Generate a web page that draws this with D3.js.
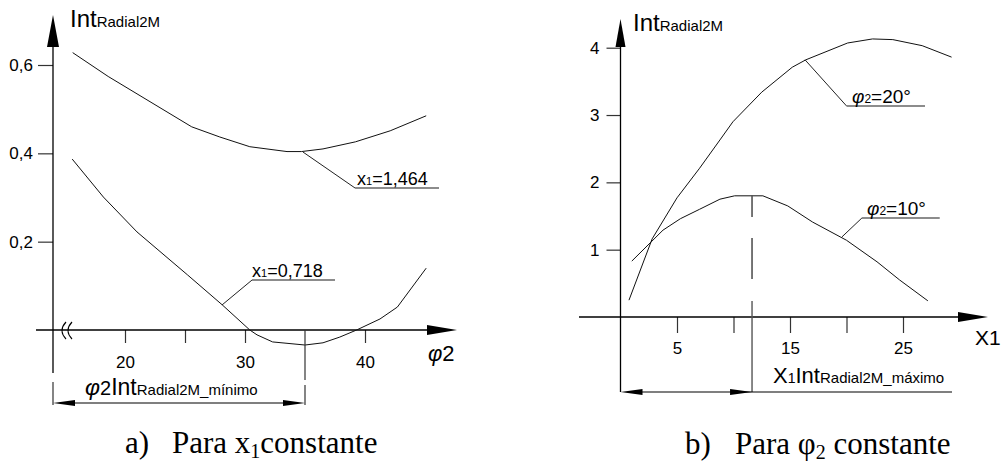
<!DOCTYPE html>
<html>
<head>
<meta charset="utf-8">
<script src="https://cdn.jsdelivr.net/npm/d3@7"></script>
<style>
  body { margin: 0; background: #fff; }
  text { font-family: "Liberation Sans", Arial, sans-serif; fill: #000; }
  .serif { font-family: "Liberation Serif", "Times New Roman", serif; }
</style>
</head>
<body>
<script>
// ---- data ----
// a) x1 constant: Int vs phi2
let phiUpper = [15.64, 18.6, 25.56, 27.9, 30.4, 33.5, 34.7, 36.5, 39.2, 42.1, 45.1];
let intUpper = [0.628, 0.574, 0.46, 0.437, 0.415, 0.404, 0.404, 0.41, 0.426, 0.451, 0.485];
let phiLower = [15.6, 18.2, 21.0, 25.2, 28.1, 30.4, 31.0, 32.3, 35.0, 36.5, 37.9, 39.3, 41.25, 42.7, 45.1];
let intLower = [0.387, 0.301, 0.222, 0.125, 0.057, 0.0, -0.011, -0.027, -0.034, -0.029, -0.016, 0.0, 0.025, 0.052, 0.14];
let leftXTicks = [20, 25, 30, 40];
let leftXLabels = [20, 30, 40];
let leftYTicks = [0.2, 0.4, 0.6];
let phiMin = 35;

// b) phi2 constant: Int vs x1
let x1Phi20 = [0.75, 2.8, 5.0, 7.0, 8.8, 9.95, 12.5, 15.2, 16.4, 20.1, 22.3, 24.1, 26.7, 29.3];
let intPhi20 = [0.25, 1.16, 1.77, 2.21, 2.63, 2.9, 3.34, 3.71, 3.82, 4.07, 4.13, 4.12, 4.03, 3.86];
let x1Phi10 = [1.0, 3.76, 5.3, 7.0, 8.8, 10.1, 12.6, 14.8, 17.0, 20.0, 22.7, 24.7, 27.2];
let intPhi10 = [0.83, 1.29, 1.46, 1.6, 1.75, 1.8, 1.8, 1.65, 1.41, 1.14, 0.82, 0.55, 0.24];
let rightXTicks = [5, 10, 15, 20, 25];
let rightXLabels = [5, 15, 25];
let rightYTicks = [1, 2, 3, 4];
let x1Max = 11.64;

let width = 1001, height = 465;

let svg = d3.select("body").append("svg").attr("width", width).attr("height", height);

let xL = d3.scaleLinear().domain([20, 40]).range([125, 365]);
let yL = d3.scaleLinear().domain([0, 0.6]).range([330, 65]);
let xR = d3.scaleLinear().domain([0, 25]).range([620.5, 903]);
let yR = d3.scaleLinear().domain([0, 4]).range([317, 47.7]);

let arrow = (tx, ty, dir, len, hw) => {
  // dir: "up", "right", "left"
  let pts;
  if (dir == "up") pts = [[tx, ty], [tx - hw, ty + len], [tx + hw, ty + len]];
  else if (dir == "right") pts = [[tx, ty], [tx - len, ty - hw], [tx - len, ty + hw]];
  else pts = [[tx, ty], [tx + len, ty - hw], [tx + len, ty + hw]];
  svg.append("polygon").attr("points", pts.map((p) => p.join(",")).join(" ")).attr("fill", "#000");
};

let seg = (x1, y1, x2, y2, color, w) => {
  return svg.append("line")
    .attr("x1", x1).attr("y1", y1).attr("x2", x2).attr("y2", y2)
    .attr("stroke", color || "#000").attr("stroke-width", w || 1.2);
};

let drawCurve = (xs, ys, sx, sy) => {
  let pts = xs.map((d, i) => [d, ys[i]]);
  svg.append("path")
    .datum(pts)
    .attr("fill", "none")
    .attr("stroke", "#111")
    .attr("stroke-width", 1)
    .attr("d", d3.line().x((d) => sx(d[0])).y((d) => sy(d[1])));
};

let leader = (sx, sy, p0, p1, xEnd) => {
  svg.append("polyline")
    .attr("points", [[sx(p0[0]), sy(p0[1])], [sx(p1[0]), sy(p1[1])]].map((p) => p.join(",")).join(" "))
    .attr("fill", "none").attr("stroke", "#222").attr("stroke-width", 1);
  seg(sx(p1[0]), sy(p1[1]), sx(xEnd), sy(p1[1]), "#666", 1.5);
};

// title "IntRadial2M"
let axisTitle = (x, y) => {
  let t = svg.append("text").attr("x", x).attr("y", y);
  t.append("tspan").attr("font-size", 24).text("Int");
  t.append("tspan").attr("font-size", 15).text("Radial2M");
};

// ================= LEFT CHART =================
let x0L = xL.invert(53);

// x axis ticks
let xAxisL = d3.axisBottom(xL).tickValues(leftXTicks).tickSize(13).tickPadding(13)
  .tickFormat((d) => (leftXLabels.includes(d) ? d : ""));
let gxL = svg.append("g").attr("transform", "translate(0," + yL(0) + ")").call(xAxisL);
gxL.select(".domain").remove();
gxL.selectAll("line").attr("stroke", "#333").attr("stroke-width", 1.2);
gxL.selectAll("text").attr("font-size", 17).attr("font-family", "Liberation Sans, Arial, sans-serif").attr("fill", "#000");

// y axis ticks
let yAxisL = d3.axisLeft(yL).tickValues(leftYTicks).tickSize(15).tickPadding(5)
  .tickFormat((d) => d.toFixed(1).replace(".", ","));
let gyL = svg.append("g").attr("transform", "translate(" + xL(x0L) + ",0)").call(yAxisL);
gyL.select(".domain").remove();
gyL.selectAll("line").attr("stroke", "#333").attr("stroke-width", 1.2);
gyL.selectAll("text").attr("font-size", 17).attr("font-family", "Liberation Sans, Arial, sans-serif").attr("fill", "#000");

// axis lines
seg(36, yL(0), 427, yL(0), "#000", 1.3);
arrow(457, yL(0), "right", 30, 5);
seg(xL(x0L), 47, xL(x0L), 373, "#000", 1.3);
arrow(xL(x0L), 15, "up", 32, 6);

// axis break "(("
svg.append("path").attr("d", "M66,322 Q58,330.5 66,339").attr("fill", "none").attr("stroke", "#000").attr("stroke-width", 1.1);
svg.append("path").attr("d", "M72,322 Q64,330.5 72,339").attr("fill", "none").attr("stroke", "#000").attr("stroke-width", 1.1);

axisTitle(70, 27);

// phi2 label
let tphi = svg.append("text").attr("x", 428).attr("y", 361).attr("font-size", 22);
tphi.append("tspan").attr("font-style", "italic").text("φ");
tphi.append("tspan").text("2");

drawCurve(phiUpper, intUpper, xL, yL);
drawCurve(phiLower, intLower, xL, yL);

leader(xL, yL, [34.83, 0.403], [39.17, 0.3215], 46.17);
let t1 = svg.append("text").attr("x", 357).attr("y", 185).attr("font-size", 18);
t1.append("tspan").text("x");
t1.append("tspan").attr("font-size", 11).text("1");
t1.append("tspan").text("=1,464");

leader(xL, yL, [28.08, 0.0566], [30.58, 0.113], 37.5);
let t2 = svg.append("text").attr("x", 252).attr("y", 277).attr("font-size", 18);
t2.append("tspan").text("x");
t2.append("tspan").attr("font-size", 11).text("1");
t2.append("tspan").text("=0,718");

// dimension phi2 minimum
seg(xL(phiMin), yL(0), xL(phiMin), 380, "#333", 1.2);
seg(xL(phiMin), 385, xL(phiMin), 405, "#333", 1.2);
seg(xL(x0L), 382, xL(x0L), 405, "#333", 1.2);
seg(xL(x0L) + 20, 403, xL(phiMin) - 20, 403, "#000", 1.2);
arrow(xL(x0L), 403, "left", 22, 3);
arrow(xL(phiMin), 403, "right", 22, 3);
let t3 = svg.append("text").attr("x", 85).attr("y", 395).attr("font-size", 23);
t3.append("tspan").attr("font-style", "italic").text("φ");
t3.append("tspan").attr("font-size", 20).text("2");
t3.append("tspan").text("Int");
t3.append("tspan").attr("font-size", 15).text("Radial2M_mínimo");

// caption a)
svg.append("text").attr("class", "serif").attr("x", 125).attr("y", 453).attr("font-size", 31).text("a)");
let ca = svg.append("text").attr("class", "serif").attr("x", 172).attr("y", 453).attr("font-size", 31);
ca.append("tspan").text("Para x");
ca.append("tspan").attr("font-size", 20).attr("dy", 5).text("1");
ca.append("tspan").attr("dy", -5).text("constante");

// ================= RIGHT CHART =================
let xAxisR = d3.axisBottom(xR).tickValues(rightXTicks).tickSize(16).tickPadding(9)
  .tickFormat((d) => (rightXLabels.includes(d) ? d : ""));
let gxR = svg.append("g").attr("transform", "translate(0," + yR(0) + ")").call(xAxisR);
gxR.select(".domain").remove();
gxR.selectAll("line").attr("stroke", "#333").attr("stroke-width", 1.2);
gxR.selectAll("text").attr("font-size", 17).attr("font-family", "Liberation Sans, Arial, sans-serif").attr("fill", "#000");

let yAxisR = d3.axisLeft(yR).tickValues(rightYTicks).tickSize(14).tickPadding(7).tickFormat(d3.format("d"));
let gyR = svg.append("g").attr("transform", "translate(" + xR(0) + ",0)").call(yAxisR);
gyR.select(".domain").remove();
gyR.selectAll("line").attr("stroke", "#333").attr("stroke-width", 1.2);
gyR.selectAll("text").attr("font-size", 17).attr("font-family", "Liberation Sans, Arial, sans-serif").attr("fill", "#000");

seg(579, yR(0), 958, yR(0), "#000", 1.3);
arrow(988, yR(0), "right", 30, 5);
seg(xR(0), 47, xR(0), 392, "#000", 1.3);
arrow(xR(0), 19, "up", 28, 5);

axisTitle(633, 31);

let tx1 = svg.append("text").attr("x", 975).attr("y", 345).attr("font-size", 21);
tx1.append("tspan").text("X1");

drawCurve(x1Phi20, intPhi20, xR, yR);
drawCurve(x1Phi10, intPhi10, xR, yR);

leader(xR, yR, [16.33, 3.82], [20.0, 3.135], 26.95);
let t4 = svg.append("text").attr("x", 852).attr("y", 103).attr("font-size", 19);
t4.append("tspan").attr("font-style", "italic").text("φ");
t4.append("tspan").attr("font-size", 12).text("2");
t4.append("tspan").text("=20°");

leader(xR, yR, [19.6, 1.19], [21.36, 1.47], 28.25);
let t5 = svg.append("text").attr("x", 867).attr("y", 215).attr("font-size", 19);
t5.append("tspan").attr("font-style", "italic").text("φ");
t5.append("tspan").attr("font-size", 12).text("2");
t5.append("tspan").text("=10°");

// dashed line at x1 of maximum
let xm = xR(x1Max);
seg(xm, 195, xm, 279, "#555", 1.6).attr("stroke-dasharray", "22,21,41,30");
seg(xm, 301, xm, 392, "#555", 1.4);

// dimension x1 maximum
seg(xR(0) + 20, 392, 952, 392, "#000", 1.2);
arrow(xR(0), 392, "left", 22, 3);
arrow(xm, 392, "right", 22, 3);
let t6 = svg.append("text").attr("x", 773).attr("y", 383).attr("font-size", 22);
t6.append("tspan").text("X");
t6.append("tspan").attr("font-size", 14).text("1");
t6.append("tspan").text("Int");
t6.append("tspan").attr("font-size", 15).text("Radial2M_máximo");

// caption b)
svg.append("text").attr("class", "serif").attr("x", 685).attr("y", 454).attr("font-size", 31).text("b)");
let cb = svg.append("text").attr("class", "serif").attr("x", 735).attr("y", 454).attr("font-size", 31);
cb.append("tspan").text("Para φ");
cb.append("tspan").attr("font-size", 20).attr("dy", 5).text("2");
cb.append("tspan").attr("dy", -5).text(" constante");
</script>
</body>
</html>
